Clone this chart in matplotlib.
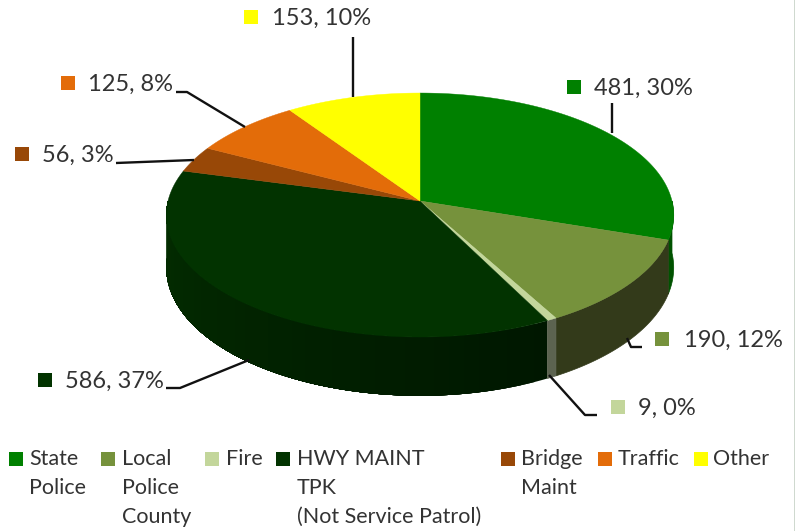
import numpy as np
import matplotlib
matplotlib.use("Agg")
import matplotlib.pyplot as plt
from matplotlib.colors import to_rgb

categories = ["State Police", "Local Police County", "Fire", "HWY MAINT TPK (Not Service Patrol)",
              "Bridge Maint", "Traffic", "Other"]
values = [481, 190, 9, 586, 56, 125, 153]
percents = [30, 12, 0, 37, 3, 8, 10]
legend_labels = ["State\nPolice", "Local\nPolice\nCounty", "Fire", "HWY MAINT\n TPK\n(Not Service Patrol)",
                 "Bridge\nMaint", "Traffic", "Other"]
colors = ["#008000", "#76923C", "#C3D69B", "#023300", "#984807", "#E36C09", "#FFFF00"]
side_colors = ["#005200", "#333A1A", "#5C6350", "#001700", "#5A2B04", "#8A4205", "#999900"]

plt.rcParams['font.family'] = ['Lato', 'DejaVu Sans']
fig = plt.figure(figsize=(7.95, 5.31), dpi=100)
ax = fig.add_axes([0, 0, 1, 1])
ax.set_xlim(0, 795)
ax.set_ylim(531, 0)
ax.axis("off")

CX, CY, A, B, K, DEPTH = 420, 201, 252, 120.4, 0.115, 52


def rim(t):
    """Clockwise angle from top (radians) -> perspective point on the top-face rim."""
    w = 1 + K * np.cos(t)
    return CX + A * np.sin(t) / w, CY - B * np.cos(t) / w


def wall(t):
    """Outline of the side wall under the rim for angles t."""
    x, y = rim(t)
    d = DEPTH / (1 + K * np.cos(t))
    return np.r_[x, x[::-1]], np.r_[y, (y + d)[::-1]]


fracs = np.cumsum([0] + values) / sum(values)
angles = 2 * np.pi * fracs

# side wall (front half only)
for i in range(len(values)):
    a0, a1 = max(angles[i], np.pi / 2), min(angles[i + 1], 3 * np.pi / 2)
    if a1 <= a0:
        continue
    if i == 3:
        # the large dark wall lightens gradually toward the left; later bands paint over earlier ones
        t = np.linspace(a0, a1, 40)
        for k in range(len(t) - 1):
            s = (t[k] - a0) / (a1 - a0)
            col = np.array(to_rgb(side_colors[3])) * (1 - s) + np.array(to_rgb("#032E00")) * s
            wx, wy = wall(np.linspace(t[k], a1, 200))
            ax.fill(wx, wy, facecolor=col, edgecolor="none", zorder=2)
    else:
        wx, wy = wall(np.linspace(a0, a1, 120))
        ax.fill(wx, wy, color=side_colors[i], lw=0.5, zorder=2.5 if i == 2 else 2)

# top face
for i in range(len(values)):
    t = np.linspace(angles[i], angles[i + 1], 200)
    x, y = rim(t)
    ax.fill(np.r_[CX, x], np.r_[CY, y], color=colors[i], lw=0.3, zorder=3)

# leader lines
leaders = [
    [(612, 133), (612, 103)],
    [(627, 338), (631, 347), (642, 347)],
    [(549, 375), (585, 415), (597, 415)],
    [(249, 360), (180, 388), (166, 388)],
    [(194, 160), (116, 163)],
    [(245, 127), (187, 92), (176, 92)],
    [(353, 97), (353, 37)],
]
for pts in leaders:
    xs, ys = zip(*pts)
    ax.plot(xs, ys, color="#111111", lw=1.7, zorder=4, solid_capstyle="butt", solid_joinstyle="round")

# data labels
label_keys = [(574, 87), (662, 339), (618, 407), (45, 380), (22, 154), (68, 83), (251, 17)]
label_text_x = [594, 684, 638, 65, 42, 88, 272]
for i, ((kx, ky), tx) in enumerate(zip(label_keys, label_text_x)):
    ax.scatter([kx], [ky], marker="s", s=110, color=colors[i], lw=0, zorder=5)
    ax.text(tx, ky + 1, f"{values[i]}, {percents[i]}%", fontsize=17, color="#333333",
            va="center", ha="left", zorder=5)

# legend
legend_key_x = [16, 108, 212, 283, 508, 605, 701]
legend_text_x = [29, 122, 226, 297, 521, 618, 713]
for i, (kx, tx) in enumerate(zip(legend_key_x, legend_text_x)):
    ax.scatter([kx], [459], marker="s", s=95, color=colors[i], lw=0, zorder=5)
    for j, line in enumerate(legend_labels[i].split("\n")):
        ax.text(tx, 459 + 29 * j, line.strip(), fontsize=15.5, color="#333333",
                va="center", ha="left", zorder=5)

# thin frame edge at the right of the picture
ax.axvline(794.5, color="#0B400B", lw=1, zorder=6)

fig.savefig("out.png", dpi=100)
